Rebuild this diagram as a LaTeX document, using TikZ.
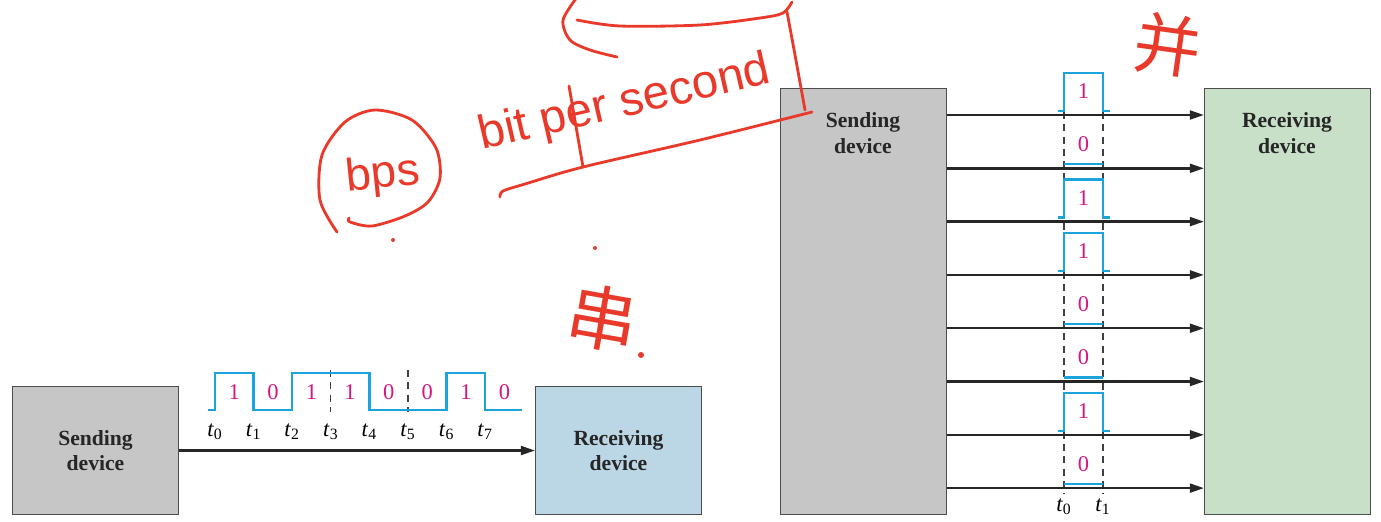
\documentclass[tikz,border=0pt]{standalone}
\usepackage{fontspec}
\setmainfont{Liberation Serif}
\setsansfont{Liberation Sans}
\newfontfamily\cjk{Noto Sans CJK SC}
\usetikzlibrary{arrows.meta}

\definecolor{gris}{HTML}{C6C6C6}
\definecolor{borde}{HTML}{4D4D4D}
\definecolor{azul}{HTML}{BBD7E6}
\definecolor{verde}{HTML}{C8E0C8}
\definecolor{cian}{HTML}{1BA3DB}
\definecolor{rosa}{HTML}{D6157F}
\definecolor{rojo}{HTML}{E8392A}

\tikzset{
  caja/.style={draw=borde, line width=0.6pt, inner sep=0pt, minimum width=3.32cm},
  titulo/.style={font=\fontsize{12.3}{14.7}\selectfont\bfseries, align=center, text=black!85},
  flecha/.style={line width=1.4pt, black!85, -{Triangle[length=8pt,width=5pt]}},
  senal/.style={cian, line width=1.3pt},
  bit/.style={rosa, font=\fontsize{12.8}{14}\selectfont},
  tiempo/.style={font=\fontsize{12.8}{14}\selectfont},
  guia/.style={black!75, line width=0.6pt, dash pattern=on 4pt off 3pt},
  mano/.style={rojo, line width=1.6pt, line cap=round, line join=round},
  letra/.style={rojo, font=\sffamily\fontsize{#1}{#1}\selectfont, inner sep=0pt},
}

\begin{document}
\begin{tikzpicture}[x=0.02cm, y=-0.02cm]
  \useasboundingbox (0,0) rectangle (1381,521);

  % Transmision en serie
  \node[caja, fill=gris, anchor=north west, minimum height=2.56cm] (ss) at (12,386) {};
  \node[titulo] (ssl) at (ss.center) {Sending\\device};
  \node[caja, fill=azul, anchor=north west, minimum height=2.56cm] (rs) at (535,386) {};
  \node[titulo] (rsl) at (rs.center) {Receiving\\device};
  \draw[flecha] (ss.east) -- (rs.west);

  \draw[guia] (330.8,370) -- (330.8,412);
  \draw[guia] (408,370) -- (408,412);
  \draw[senal] (208,410) -- (215,410) -- (215,373) -- (253.6,373) -- (253.6,410)
    -- (292.2,410) -- (292.2,373) -- (369.4,373) -- (369.4,410) -- (446.6,410)
    -- (446.6,373) -- (485.2,373) -- (485.2,410) -- (522,410);
  \foreach \b [count=\i from 0] in {1,0,1,1,0,0,1,0}
    \node[bit] (bs\i) at (215+38.6*\i+19.3,392) {\b};
  \foreach \i in {0,...,7}
    \node[tiempo] (ts\i) at (215+38.6*\i,432) {\textit{t}\textsubscript{\i}};

  % Transmision en paralelo
  \node[caja, fill=gris, anchor=north west, minimum height=8.52cm] (sp) at (780,88) {};
  \node[titulo] (spl) at (863,133) {Sending\\device};
  \node[caja, fill=verde, anchor=north west, minimum height=8.52cm] (rp) at (1204,88) {};
  \node[titulo] (rpl) at (1287,133) {Receiving\\device};

  \draw[guia] (1064,112) -- (1064,494);
  \draw[guia] (1103,112) -- (1103,494);
  \foreach \b [count=\i] in {1,0,1,1,0,0,1,0} {
    \pgfmathsetmacro\y{115+53.3*(\i-1)}
    \coordinate (a\i) at (sp.east |- 0,\y);
    \coordinate (z\i) at (rp.west |- 0,\y);
    \draw[flecha] (a\i) -- (z\i);
    \ifnum\b=1
      \draw[senal] (1058,\y-4) -- (1064,\y-4) -- (1064,\y-42) -- (1103,\y-42)
        -- (1103,\y-4) -- (1110,\y-4);
    \else
      \draw[senal] (1064,\y-4) -- (1103,\y-4);
    \fi
    \node[bit] (bp\i) at (1083.5,\y-24) {\b};
  }
  \node[tiempo] (tp0) at (1064,507) {\textit{t}\textsubscript{0}};
  \node[tiempo] (tp1) at (1103,507) {\textit{t}\textsubscript{1}};

  % Notas a mano
  \draw[mano] plot[smooth] coordinates {(337,232) (320,200) (322,155) (345,122)
    (375,110) (412,120) (436,148) (440,178) (428,202) (405,216) (372,226) (350,222) (349,218)};
  \node[letra=26, rotate=6] (bps) at (383,176) {bps};
  \node[letra=27, rotate=13, anchor=base west] (bpsl) at (482,150) {bit per second};
  \draw[mano] plot[smooth] coordinates {(500,197) (503,191) (525,184) (583,167) (700,140) (812,112)};
  \draw[mano] (569,86) -- (583,167);
  \draw[mano] plot[smooth] coordinates {(787,12) (795,55) (805,110)};
  \draw[mano] plot[smooth] coordinates {(578,-4) (563,20) (570,40) (590,50) (617,57)};
  \draw[mano] plot[smooth] coordinates {(577,20) (620,26) (700,25) (760,18) (783,13) (792,2)};
  \fill[rojo] (393,240) circle (2);
  \fill[rojo] (595,248) circle (2);
  \node[rojo, font=\cjk\fontsize{40}{40}\selectfont, rotate=-10] (chuan) at (603,318) {串};
  \fill[rojo] (641,355) circle (3);
  \node[rojo, font=\cjk\fontsize{38}{38}\selectfont, rotate=-8] (bing) at (1168,45) {并};
\end{tikzpicture}
\end{document}
